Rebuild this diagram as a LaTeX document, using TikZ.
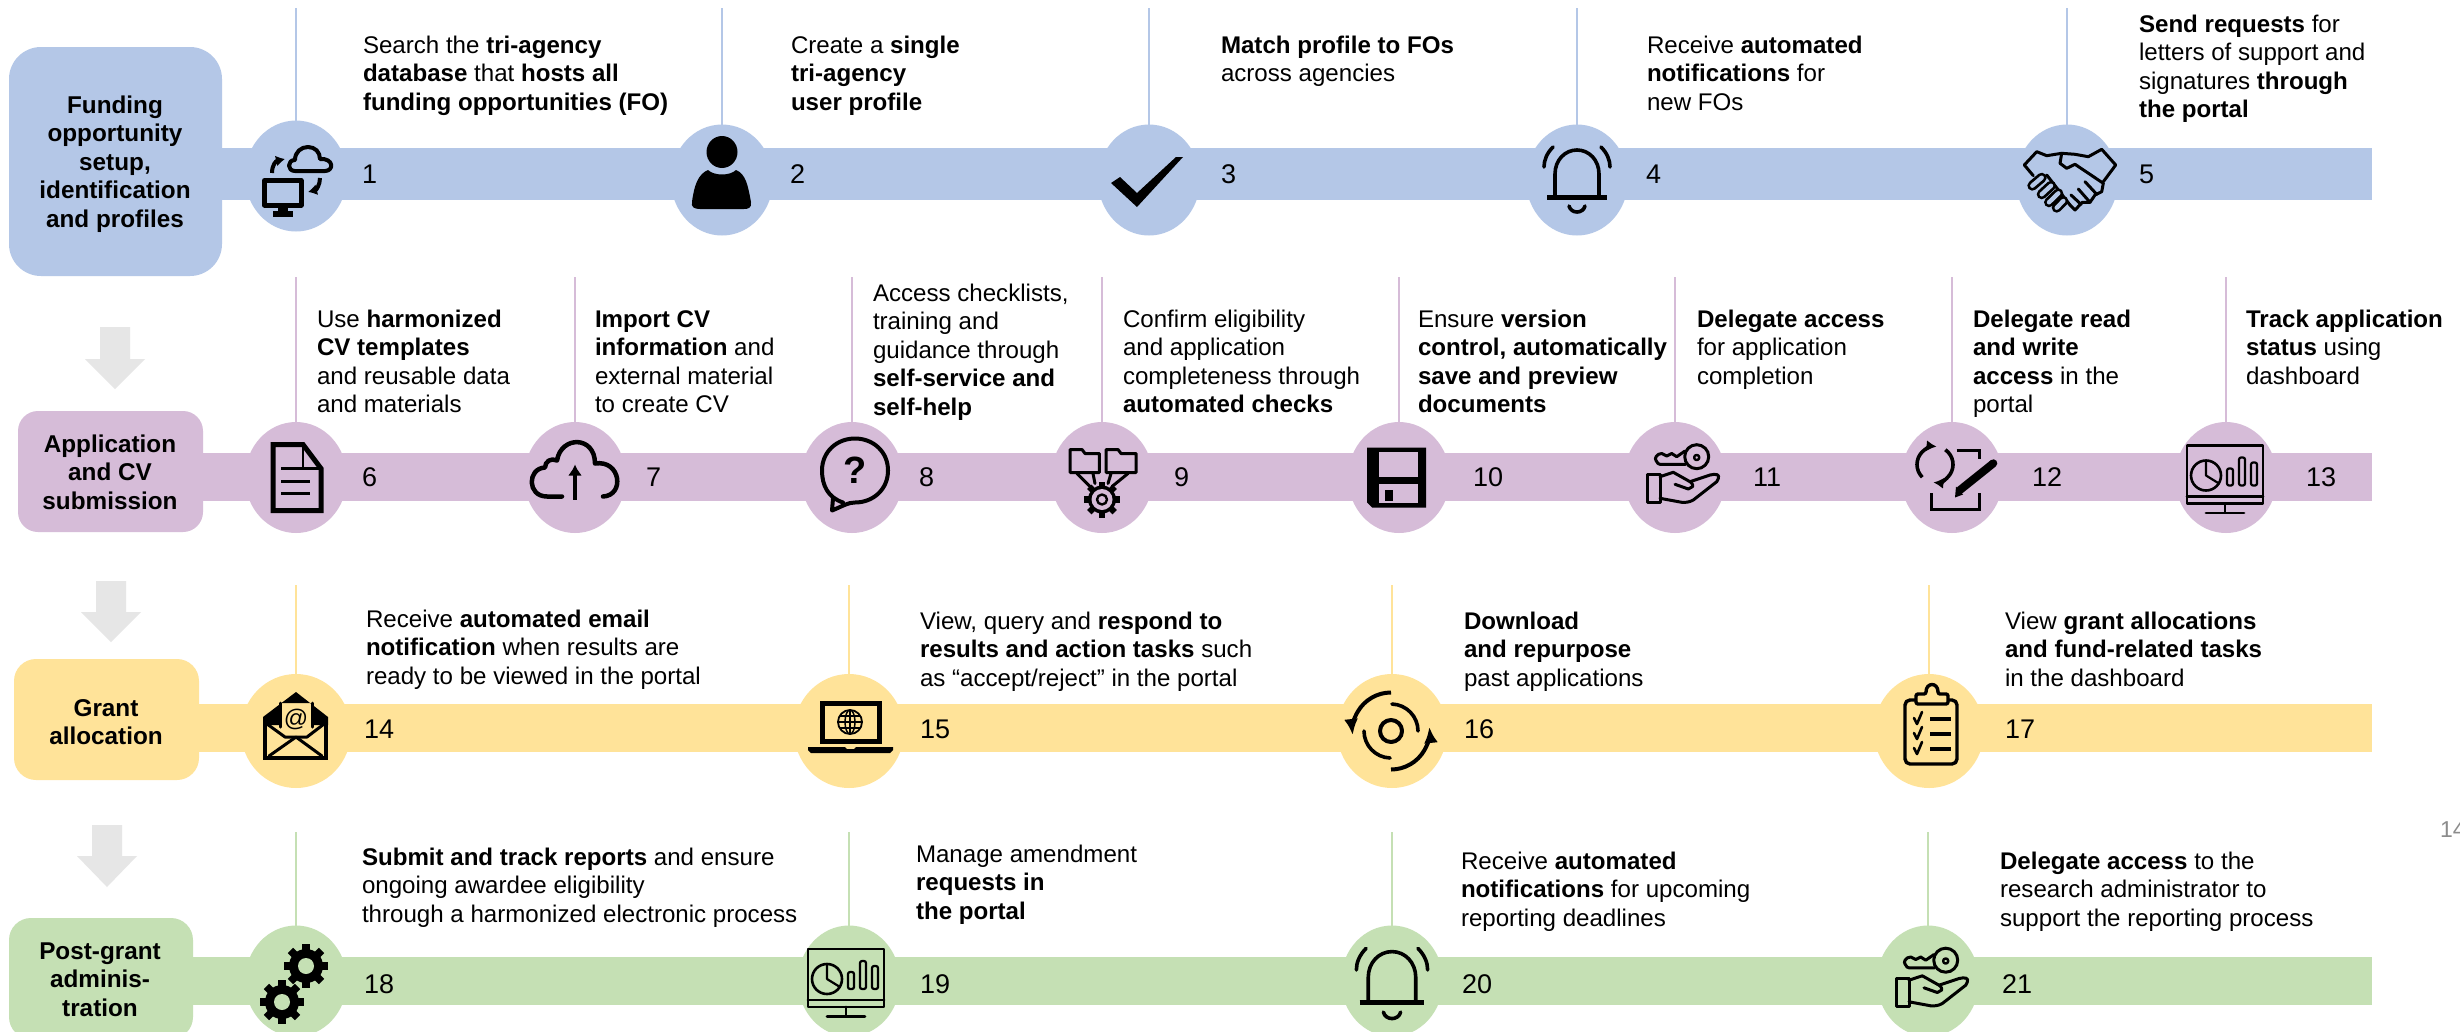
\documentclass[tikz,border=0pt]{standalone}
\usepackage{fontspec}
\setmainfont{Liberation Sans}
\usetikzlibrary{shapes.geometric,arrows.meta}
\definecolor{rowA}{HTML}{B4C7E7}
\definecolor{rowB}{HTML}{D6BCD8}
\definecolor{rowC}{HTML}{FFE399}
\definecolor{rowD}{HTML}{C5E0B4}
\definecolor{flowgray}{HTML}{E6E6E6}
\tikzset{
  steptxt/.style={inner sep=0pt,outer sep=0pt,align=left,text=black,font=\fontsize{24.1}{28.6}\selectfont},
  headtxt/.style={inner sep=0pt,outer sep=0pt,align=center,text=black,font=\fontsize{24.3}{28.6}\selectfont\bfseries},
  numtxt/.style={inner sep=0pt,outer sep=0pt,anchor=west,text=black,font=\fontsize{27}{30}\selectfont},
  disc/.style={ellipse,inner sep=0pt,outer sep=0pt,fill=#1},
  discA/.style={disc=#1,minimum width=102pt,minimum height=111pt},
  discB/.style={disc=#1,minimum width=110pt,minimum height=114pt},
  headbox/.style={rectangle,inner sep=0pt,outer sep=0pt,fill=#1},
  stem/.style={line width=2.6pt,draw=#1},
  ico/.style={draw=black,line width=3pt,line join=round,line cap=round},
  flowarrow/.style={fill=flowgray,draw=none}
}
\newcommand{\steptext}[4]{\node[steptxt,anchor=north west] (#1) at (#2,#3-20.02) {\strut #4};}
\newcommand{\headtext}[4]{\node[headtxt,anchor=north] (#1) at (#2,#3-20.02) {\strut #4};}
\newcommand{\flowdown}[4]{%
  \fill[flowarrow] (#1-15,#2) -- (#1+15,#2) -- (#1+15,#3) -- (#1+30,#3) -- (#1,#4) -- (#1-30,#3) -- (#1-15,#3) -- cycle;}
\newcommand{\stepdisc}[6]{%
  \coordinate (t#1) at (#2,#4);
  \node[#6=#5] (c#1) at (#2,#3) {};
  \draw[stem=#5] (t#1) -- (c#1.north);}
\newcommand{\icoBell}{%
  \draw[ico,line width=3.6pt] (-22,15) -- (-22,-6) .. controls (-22,-20) and (-12,-30) .. (0,-30) .. controls (12,-30) and (22,-20) .. (22,-6) -- (22,15);
  \draw[ico,line width=5pt,line cap=butt] (-30,17.5) -- (30,17.5);
  \draw[ico,line width=3.6pt] (-8,26) .. controls (-6,34) and (6,34) .. (8,26);
  \draw[ico,line width=3.6pt] (-24,-33) .. controls (-30,-27) and (-33,-20) .. (-33,-13);
  \draw[ico,line width=3.6pt] (24,-33) .. controls (30,-27) and (33,-20) .. (33,-13);}
\newcommand{\icoKeyHand}{%
  \draw[ico,line width=3pt] (21.7,-20.8) circle[radius=12pt];
  \draw[ico,line width=2.4pt] (21.7,-20) circle[radius=2.6pt];
  \draw[ico,line width=3pt] (10,-26.5) -- (1.7,-20.8) -- (-3.3,-24) -- (-8.3,-21.5) -- (-13.3,-24) .. controls (-18,-24) and (-21,-19) .. (-19,-17) .. controls (-18,-14) and (-16,-13.2) .. (-15,-13.2) -- (10.5,-13.2);
  \draw[ico,line width=3pt] (-27.7,-3) rectangle (-15,25);
  \draw[ico,line width=3pt] (-15,-0.8) -- (-1.7,-5.2) -- (15,4.2) .. controls (18,6) and (18,9) .. (17.7,9) -- (13.3,11.5) -- (0,6.8);
  \draw[ico,line width=3pt] (15,4.2) -- (35,-2.5) .. controls (41,-4) and (45,-3) .. (43.3,1) -- (41.7,4.2) -- (18.3,22.5) .. controls (14,25) and (10,25) .. (6.7,24.8) -- (-15,20.8);}
\newcommand{\icoDash}{%
  \draw[ico,line width=2.8pt] (-39,-32) rectangle (37,26);
  \draw[ico,line width=2.8pt] (-39,19) -- (37,19);
  \draw[ico,line width=2.8pt] (-1,26) -- (-1,35) (-20,35.5) -- (18,35.5);
  \draw[ico,line width=2.6pt] (-20,-2) circle[radius=15pt];
  \draw[ico,line width=2.2pt] (-20,-2) -- (-20,-17) (-20,-2) -- (-7,6);
  \draw[ico,line width=2.2pt,rounded corners=2pt] (1,8) rectangle (7,-9);
  \draw[ico,line width=2.2pt,rounded corners=2pt] (13,8) rectangle (19,-20);
  \draw[ico,line width=2.2pt,rounded corners=2pt] (25,8) rectangle (31,-15);}
\newcommand{\icoGear}[6]{% cx cy router rbody rhole colour
  \foreach \a in {0,45,...,315}
    \draw[black,line width=#3*0.34pt] ([shift={(#1,#2)}]\a:#4*0.9pt) -- ([shift={(#1,#2)}]\a:#3pt);
  \fill[black] (#1,#2) circle[radius=#4pt];
  \fill[#6] (#1,#2) circle[radius=#5pt];}
\newcommand{\capsule}[4]{%
  \draw[black,line width=10pt,line cap=round] (#1,#2) -- (#3,#4);
  \draw[rowA,line width=4.4pt,line cap=round] (#1,#2) -- (#3,#4);}
\begin{document}
\begin{tikzpicture}[x=1pt,y=-1pt]
\path[use as bounding box] (0,0) rectangle (2460,1031);
\clip (0,0) rectangle (2460,1031);
\fill[white] (0,0) rectangle (2460,1031);
% bands
\fill[rowA] (200,148) rectangle (2372,200);
\fill[rowB] (190,453) rectangle (2372,501);
\fill[rowC] (190,704) rectangle (2372,752);
\fill[rowD] (180,957) rectangle (2372,1005);
% head boxes
\node[headbox=rowA,rounded corners=32pt,minimum width=213pt,minimum height=229pt] (boxA) at (115.5,161.5) {};
\node[headbox=rowB,rounded corners=20pt,minimum width=185pt,minimum height=121pt] (boxB) at (110.5,471.5) {};
\node[headbox=rowC,rounded corners=22pt,minimum width=185pt,minimum height=121pt] (boxC) at (106.5,719.5) {};
\node[headbox=rowD,rounded corners=22pt,minimum width=184pt,minimum height=121pt] (boxD) at (101,978.5) {};
\headtext{hA}{115}{113}{Funding\\opportunity\\setup,\\identification\\and profiles}
\headtext{hB}{110}{452}{Application\\and CV\\submission}
\headtext{hC}{106}{716}{Grant\\allocation}
\headtext{hD}{100}{959}{Post-grant\\adminis-\\tration}
% flow arrows
\flowdown{115}{327}{359}{389}
\flowdown{111}{581}{612}{642}
\flowdown{107}{825}{856}{887}
% discs and stems
\stepdisc{1}{296}{176}{8}{rowA}{discA}
\stepdisc{2}{722}{180}{8}{rowA}{discA}
\stepdisc{3}{1149}{180}{8}{rowA}{discA}
\stepdisc{4}{1577}{180}{8}{rowA}{discA}
\stepdisc{5}{2067}{180}{8}{rowA}{discA}
\stepdisc{6}{296}{477.5}{277}{rowB}{discA}
\stepdisc{7}{575}{477.5}{277}{rowB}{discA}
\stepdisc{8}{852}{477.5}{277}{rowB}{discA}
\stepdisc{9}{1102}{477.5}{277}{rowB}{discA}
\stepdisc{10}{1399}{477.5}{277}{rowB}{discA}
\stepdisc{11}{1675}{477.5}{277}{rowB}{discA}
\stepdisc{12}{1952}{477.5}{277}{rowB}{discA}
\stepdisc{13}{2226}{477.5}{277}{rowB}{discA}
\stepdisc{14}{296}{731}{585}{rowC}{discB}
\stepdisc{15}{849}{731}{585}{rowC}{discB}
\stepdisc{16}{1392}{731}{585}{rowC}{discB}
\stepdisc{17}{1929}{731}{585}{rowC}{discB}
\stepdisc{18}{296}{981}{832}{rowD}{discA}
\stepdisc{19}{849}{981}{832}{rowD}{discA}
\stepdisc{20}{1392}{981}{832}{rowD}{discA}
\stepdisc{21}{1928}{981}{832}{rowD}{discA}
% step texts
\steptext{s1}{363}{53}{Search the \textbf{tri-agency}\\\textbf{database} that \textbf{hosts all}\\\textbf{funding opportunities (FO)}}
\steptext{s2}{791}{53}{Create a \textbf{single}\\\textbf{tri-agency}\\\textbf{user profile}}
\steptext{s3}{1221}{53}{\textbf{Match profile to FOs}\\across agencies}
\steptext{s4}{1647}{53}{Receive \textbf{automated}\\\textbf{notifications} for\\new FOs}
\steptext{s5}{2139}{32}{\textbf{Send requests} for\\letters of support and\\signatures \textbf{through}\\\textbf{the portal}}
\steptext{s6}{317}{327}{Use \textbf{harmonized}\\\textbf{CV templates}\\and reusable data\\and materials}
\steptext{s7}{595}{327}{\textbf{Import CV}\\\textbf{information} and\\external material\\to create CV}
\steptext{s8}{873}{301}{Access checklists,\\training and\\guidance through\\\textbf{self-service and}\\\textbf{self-help}}
\steptext{s9}{1123}{327}{Confirm eligibility\\and application\\completeness through\\\textbf{automated checks}}
\steptext{s10}{1418}{327}{Ensure \textbf{version}\\\textbf{control, automatically}\\\textbf{save and preview}\\\textbf{documents}}
\steptext{s11}{1697}{327}{\textbf{Delegate access}\\for application\\completion}
\steptext{s12}{1973}{327}{\textbf{Delegate read}\\\textbf{and write}\\\textbf{access} in the\\portal}
\steptext{s13}{2246}{327}{\textbf{Track application}\\\textbf{status} using\\dashboard}
\steptext{s14}{366}{627}{Receive \textbf{automated email}\\\textbf{notification} when results are\\ready to be viewed in the portal}
\steptext{s15}{920}{629}{View, query and \textbf{respond to}\\\textbf{results and action tasks} such\\as “accept/reject” in the portal}
\steptext{s16}{1464}{629}{\textbf{Download}\\\textbf{and repurpose}\\past applications}
\steptext{s17}{2005}{629}{View \textbf{grant allocations}\\\textbf{and fund-related tasks}\\in the dashboard}
\steptext{s18}{362}{865}{\textbf{Submit and track reports} and ensure\\ongoing awardee eligibility\\through a harmonized electronic process}
\steptext{s19}{916}{862}{Manage amendment\\\textbf{requests in}\\\textbf{the portal}}
\steptext{s20}{1461}{869}{Receive \textbf{automated}\\\textbf{notifications} for upcoming\\reporting deadlines}
\steptext{s21}{2000}{869}{\textbf{Delegate access} to the\\research administrator to\\support the reporting process}
% numbers
\node[numtxt] (n1) at (362,174) {1};
\node[numtxt] (n2) at (790,174) {2};
\node[numtxt] (n3) at (1221,174) {3};
\node[numtxt] (n4) at (1646,174) {4};
\node[numtxt] (n5) at (2139,174) {5};
\node[numtxt] (n6) at (362,477) {6};
\node[numtxt] (n7) at (646,477) {7};
\node[numtxt] (n8) at (919,477) {8};
\node[numtxt] (n9) at (1174,477) {9};
\node[numtxt] (n10) at (1473,477) {10};
\node[numtxt] (n11) at (1753,477) {11};
\node[numtxt] (n12) at (2032,477) {12};
\node[numtxt] (n13) at (2306,477) {13};
\node[numtxt] (n14) at (364,729) {14};
\node[numtxt] (n15) at (920,729) {15};
\node[numtxt] (n16) at (1464,729) {16};
\node[numtxt] (n17) at (2005,729) {17};
\node[numtxt] (n18) at (364,984) {18};
\node[numtxt] (n19) at (920,984) {19};
\node[numtxt] (n20) at (1462,984) {20};
\node[numtxt] (n21) at (2002,984) {21};
\node[numtxt,text=black!45,font=\fontsize{23}{28}\selectfont] (pg) at (2440,830) {14};
% icon 1: computer and cloud
\begin{scope}[shift={(c1)}]
  \draw[ico,line width=5pt,line cap=butt] (-31.5,4.5) rectangle (5,29);
  \draw[black,line width=10pt] (-13,31) -- (-13,36);
  \draw[black,line width=6pt] (-23,37.5) -- (-3,37.5);
  \draw[ico,line width=4pt] (-1,-5) .. controls (-9,-5) and (-9,-16) .. (-1,-16) .. controls (-1,-24) and (5,-29) .. (12,-29) .. controls (19,-29) and (24,-24) .. (24,-17) .. controls (38,-18) and (38,-5) .. (29,-5) -- cycle;
  \draw[line width=4pt,-{Latex[length=9pt,width=11pt]}] (-24,-3) .. controls (-24,-11) and (-20,-15) .. (-11,-17);
  \draw[line width=4pt,-{Latex[length=9pt,width=11pt]}] (24,2) .. controls (24,9) and (20,14) .. (12,16);
\end{scope}
% icon 2: person
\begin{scope}[shift={(c2)}]
  \fill[black] (0,-28) ellipse[x radius=15.5pt,y radius=16pt];
  \fill[black] (-14,-10) .. controls (-8,-4) and (8,-4) .. (14,-10) .. controls (24,-6) and (26,6) .. (29,22) .. controls (30,28) and (26,29) .. (22,29) -- (-22,29) .. controls (-28,29) and (-31,27) .. (-30,22) .. controls (-28,6) and (-24,-6) .. (-14,-10) -- cycle;
\end{scope}
% icon 3: check
\begin{scope}[shift={(c3)}]
  \fill[black] (-38,3) -- (-29,-3) -- (-12,13) -- (27,-23) -- (34,-23) -- (-12,27) -- cycle;
\end{scope}
% icon 4, 20: bells
\begin{scope}[shift={(c4)}]\icoBell\end{scope}
\begin{scope}[shift={(c20)},yshift=-3pt,scale=1.08]\icoBell\end{scope}
% icon 5: handshake
\begin{scope}[shift={(c5)}]
  \draw[ico,line width=3pt] (-33.7,-4.3) -- (-42.7,-15) -- (-30.3,-28.3) -- (-20.3,-24.3) -- (-5.3,-26.7) -- (8,-25.7) -- (21.3,-23.3) -- (34.7,-30.7) -- (48.7,-15) -- (36.3,1.7);
  \draw[ico,line width=3pt] (-5.3,-26.7) -- (-7,-16.7) -- (-0.3,-11.7) -- (8,-15.7) -- (36.3,3.3) -- (34.7,11.7) -- (28,15) -- (23,22.3) -- (15.3,22.3) -- (8,30) -- (3,25);
  \draw[ico,line width=3pt] (-20.3,-5) -- (3,25);
  \draw[ico,line width=3pt] (4,15) -- (14,24.3) (11.3,9) -- (23,22.3) (18,1.7) -- (29.7,14.3);
  \capsule{-34.7}{5.7}{-25.3}{-2.3}
  \capsule{-25.3}{14.3}{-16}{5.7}
  \capsule{-18}{22.3}{-8.7}{13.3}
  \capsule{-10.3}{27.7}{-3.7}{21}
\end{scope}
% icon 6: document
\begin{scope}[shift={(c6)}]
  \draw[ico,line width=5pt,line cap=butt,line join=miter] (-23,-33) -- (7,-33) -- (25,-9) -- (25,33) -- (-23,33) -- cycle;
  \draw[ico,line width=2.5pt] (7,-33) -- (7,-9) -- (25,-9);
  \draw[ico,line width=3pt,line cap=butt] (-15,-9) -- (14,-9) (-15,4) -- (14,4) (-15,16) -- (14,16);
\end{scope}
% icon 7: cloud upload
\begin{scope}[shift={(c7)}]
  \draw[ico,line width=4.5pt] (-13,19) -- (-28,19) .. controls (-48,19) and (-48,-9) .. (-30,-10) .. controls (-30,-16) and (-24,-20) .. (-18,-17) .. controls (-14,-42) and (20,-42) .. (20,-14) .. controls (46,-18) and (50,18) .. (28,19);
  \draw[line width=4.5pt,-{Latex[length=11pt,width=14pt]}] (0,22) -- (0,-13);
\end{scope}
% icon 8: help bubble
\begin{scope}[shift={(c8)}]
  \draw[ico,line width=4pt] (-9,25) .. controls (-24,20) and (-30,8) .. (-30,-7) .. controls (-30,-26) and (-15,-39) .. (3,-39) .. controls (21,-39) and (36,-26) .. (36,-7) .. controls (36,12) and (21,25) .. (3,25) .. controls (-4,25) and (-8,28) .. (-20,33) -- (-19,21);
  \node[font=\fontsize{38}{40}\selectfont\bfseries,inner sep=0pt,text=black] (q8) at (3,-7) {?};
\end{scope}
% icon 9: folders and gear
\begin{scope}[shift={(c9)}]
  \draw[ico,line width=3pt] (-32,-5) -- (-32,-28) -- (-20,-28) -- (-17,-24) -- (-2.7,-24) -- (-2.7,-5) -- cycle;
  \draw[ico,line width=3pt] (4,-5) -- (4,-28) -- (16,-28) -- (19,-24) -- (34,-24) -- (34,-5) -- cycle;
  \draw[ico,line width=3pt] (-25,-4) -- (-10,11) (-9,-4) -- (-7,6) (26,-4) -- (10,9) (9,-4) -- (6,6);
  \icoGear{0}{22}{18}{14}{10.5}{rowB}
  \draw[ico,line width=2.4pt] (0,22) circle[radius=5pt];
\end{scope}
% icon 10: floppy
\begin{scope}[shift={(c10)}]
  \fill[black] (-32,-30) -- (27,-30) -- (27,30) -- (-27,30) -- (-32,25) -- cycle;
  \fill[rowB] (-20,-26) rectangle (19,-1);
  \fill[rowB] (-20,6) rectangle (19,25);
  \fill[black] (-14,12) rectangle (-6,23);
\end{scope}
% icon 11, 21: key in hand
\begin{scope}[shift={(c11)}]\icoKeyHand\end{scope}
\begin{scope}[shift={(c21)},xshift=-4pt]\icoKeyHand\end{scope}
% icon 12: sync and pencil
\begin{scope}[shift={(c12)}]
  \draw[line width=3.6pt,-{Latex[length=10pt,width=11pt]}] ([shift={(-17,-13)}]225:18pt) arc[start angle=225,end angle=85,radius=18pt];
  \draw[line width=3.6pt,-{Latex[length=10pt,width=11pt]}] ([shift={(-17,-13)}]55:18pt) arc[start angle=55,end angle=-95,radius=18pt];
  \draw[ico,line width=3pt,line cap=butt,line join=miter] (4.7,-27.5) -- (27.3,-27.5) -- (27.3,-19);
  \draw[ico,line width=3pt,line cap=butt,line join=miter] (-20.3,15.8) -- (-20.3,31.5) -- (27.3,31.5) -- (27.3,15.8);
  \draw[line width=8pt,line cap=round] (41.3,-14.2) -- (8,12.5);
  \fill[black] (11,17) -- (4,9) -- (3,20) -- cycle;
\end{scope}
% icon 13, 19: dashboards
\begin{scope}[shift={(c13)}]\icoDash\end{scope}
\begin{scope}[shift={(c19)},xshift=-2pt]\icoDash\end{scope}
% icon 14: envelope
\begin{scope}[shift={(c14)}]
  \fill[black] (-33,-14) -- (0,-39) -- (32,-14) -- (32,-6) -- (16,-6) -- (16,-28) -- (-16,-28) -- (-16,-6) -- (-33,-6) -- cycle;
  \draw[ico,line width=4pt,line cap=butt,line join=miter] (-31,-14) -- (-31,27) -- (30,27) -- (30,-14);
  \draw[ico,line width=3pt] (-29,-7) -- (-11,6) -- (11,6) -- (28,-7);
  \draw[ico,line width=3pt] (-27,25) -- (0,6) -- (26,25);
  \draw[ico,line width=3pt] (-16,-28) -- (-16,-4) (16,-28) -- (16,-4);
  \node[font=\fontsize{24}{26}\selectfont,inner sep=0pt,text=black] (at14) at (0,-12) {@};
\end{scope}
% icon 15: laptop
\begin{scope}[shift={(c15)}]
  \draw[ico,line width=5pt,line cap=butt,line join=miter] (-27,-28) rectangle (30,10);
  \fill[black] (-41,16) -- (-4,16) -- (-2,18) -- (5,18) -- (7,16) -- (44,16) -- (44,19) -- (41,22) -- (-38,22) -- (-41,19) -- cycle;
  \draw[ico,line width=1.8pt] (1,-9) circle[radius=12pt];
  \draw[ico,line width=1.5pt] (1,-9) ellipse[x radius=5pt,y radius=12pt];
  \draw[ico,line width=1.5pt] (-11,-9) -- (13,-9) (1,-21) -- (1,3) (-9,-15) -- (11,-15) (-9,-3) -- (11,-3);
\end{scope}
% icon 16: circular arrows
\begin{scope}[shift={(c16)}]
  \draw[ico,line width=4pt] (-1,0) circle[radius=11pt];
  \draw[ico,line width=3.6pt] ([shift={(-1,0)}]88:27pt) arc[start angle=88,end angle=0,radius=27pt];
  \draw[ico,line width=3.6pt] ([shift={(-1,0)}]268:27pt) arc[start angle=268,end angle=180,radius=27pt];
  \draw[line width=4pt,-{Latex[length=16pt,width=14pt]}] ([shift={(-1,0)}]90:38.5pt) arc[start angle=90,end angle=186,radius=38.5pt];
  \draw[line width=4pt,-{Latex[length=16pt,width=14pt]}] ([shift={(-1,0)}]270:38.5pt) arc[start angle=270,end angle=366,radius=38.5pt];
\end{scope}
% icon 17: clipboard
\begin{scope}[shift={(c17)}]
  \draw[ico,line width=3.4pt,rounded corners=5pt] (-24,-31) rectangle (28,33);
  \fill[rowC] (-13,-27) -- (-13,-37) -- (-3,-37) .. controls (-3,-49) and (9,-49) .. (9,-37) -- (19,-37) -- (19,-27) -- cycle;
  \draw[ico,line width=3.4pt,rounded corners=2pt] (-13,-27) -- (-13,-37) -- (-3,-37) .. controls (-3,-49) and (9,-49) .. (9,-37) -- (19,-37) -- (19,-27) -- cycle;
  \draw[ico,line width=2.6pt] (-15,-13) -- (-12,-7) -- (-7,-19) (-15,2) -- (-12,8) -- (-7,-4) (-15,17) -- (-12,23) -- (-7,11);
  \draw[ico,line width=4pt,line cap=butt] (1,-12) -- (22,-12) (1,3) -- (22,3) (1,18) -- (22,18);
\end{scope}
% icon 18: gears
\begin{scope}[shift={(c18)}]
  \icoGear{10}{-15}{22}{17}{8}{rowD}
  \icoGear{-14}{21}{22}{17}{8}{rowD}
\end{scope}
\end{tikzpicture}
\end{document}
